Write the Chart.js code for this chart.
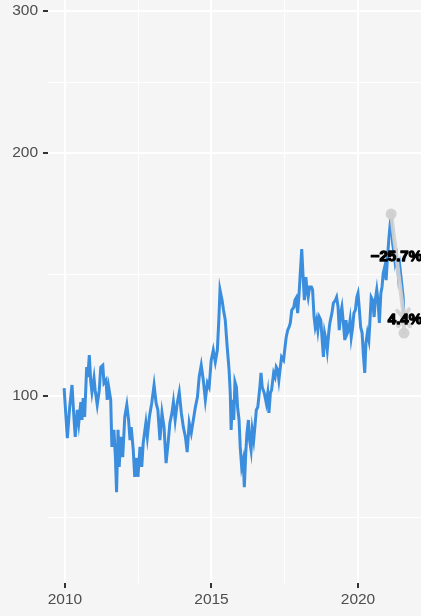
<!DOCTYPE html>
<html>
<head>
<meta charset="utf-8">
<script src="https://cdn.jsdelivr.net/npm/chart.js@4.4.0/dist/chart.umd.min.js"></script>
<style>
  html, body { margin: 0; padding: 0; background: #f5f5f5; }
  canvas { display: block; }
</style>
</head>
<body>
<canvas id="chart" width="421" height="616"></canvas>
<script>
// series (decimal years, index level)
const years = [
  2009.97, 2010.08, 2010.16, 2010.24, 2010.31, 2010.35, 2010.42, 2010.47, 2010.54, 2010.58,
  2010.62, 2010.67, 2010.74, 2010.78, 2010.83, 2010.88, 2010.92, 2010.99, 2011.03, 2011.10,
  2011.17, 2011.22, 2011.29, 2011.33, 2011.40, 2011.44, 2011.49, 2011.56, 2011.60, 2011.67,
  2011.72, 2011.76, 2011.81, 2011.85, 2011.90, 2011.97, 2012.04, 2012.11, 2012.17, 2012.22,
  2012.26, 2012.33, 2012.38, 2012.45, 2012.49, 2012.56, 2012.62, 2012.67, 2012.76, 2012.81,
  2012.88, 2012.96, 2013.04, 2013.11, 2013.17, 2013.24, 2013.31, 2013.38, 2013.45, 2013.52,
  2013.58, 2013.65, 2013.70, 2013.76, 2013.83, 2013.90, 2013.97, 2014.04, 2014.11, 2014.17,
  2014.24, 2014.31, 2014.38, 2014.45, 2014.52, 2014.58, 2014.65, 2014.72, 2014.79, 2014.86,
  2014.92, 2014.99, 2015.06, 2015.13, 2015.20, 2015.25, 2015.29, 2015.36, 2015.41, 2015.47,
  2015.53, 2015.60, 2015.64, 2015.67, 2015.71, 2015.76, 2015.80, 2015.85, 2015.89, 2015.94,
  2015.98, 2016.03, 2016.08, 2016.12, 2016.17, 2016.21, 2016.26, 2016.30, 2016.35, 2016.39,
  2016.44, 2016.48, 2016.53, 2016.58, 2016.65, 2016.69, 2016.73, 2016.80, 2016.87, 2016.92,
  2016.96, 2017.01, 2017.05, 2017.12, 2017.17, 2017.21, 2017.26, 2017.30, 2017.35, 2017.39,
  2017.46, 2017.51, 2017.55, 2017.60, 2017.65, 2017.69, 2017.74, 2017.81, 2017.85, 2017.89,
  2017.94, 2017.99, 2018.03, 2018.08, 2018.12, 2018.17, 2018.22, 2018.26, 2018.30, 2018.35,
  2018.41, 2018.45, 2018.50, 2018.54, 2018.59, 2018.63, 2018.68, 2018.73, 2018.77, 2018.82,
  2018.86, 2018.91, 2018.95, 2019.00, 2019.04, 2019.11, 2019.16, 2019.23, 2019.27, 2019.32,
  2019.36, 2019.41, 2019.45, 2019.50, 2019.55, 2019.59, 2019.64, 2019.68, 2019.73, 2019.77,
  2019.82, 2019.86, 2019.91, 2019.96, 2020.00, 2020.04, 2020.09, 2020.14, 2020.18, 2020.23,
  2020.27, 2020.32, 2020.37, 2020.41, 2020.45, 2020.50, 2020.55, 2020.59, 2020.64, 2020.68,
  2020.73, 2020.78, 2020.82, 2020.86, 2020.91, 2020.96, 2021.00, 2021.05, 2021.09, 2021.13,
  2021.18, 2021.23, 2021.27, 2021.32, 2021.38, 2021.43, 2021.49, 2021.54, 2021.57
];
const values = [
  102.3, 88.7, 96.9, 103.2, 93.4, 89.0, 96.1, 92.6, 98.3, 93.4,
  99.4, 94.2, 108.6, 105.6, 112.4, 104.1, 101.1, 105.3, 101.7, 97.5,
  101.7, 108.6, 109.2, 103.8, 104.7, 98.9, 102.6, 98.9, 86.5, 90.8,
  84.0, 76.0, 90.8, 81.7, 89.0, 84.0, 94.2, 97.5, 93.4, 88.2,
  91.5, 85.7, 79.4, 83.8, 79.4, 86.5, 81.7, 87.5, 92.6, 89.0,
  94.2, 98.0, 103.2, 98.0, 96.1, 88.2, 95.3, 91.5, 82.6, 87.5,
  92.6, 95.3, 98.3, 93.4, 98.0, 101.1, 95.3, 91.5, 89.0, 85.2,
  92.6, 90.0, 93.4, 96.9, 99.7, 105.6, 109.2, 104.7, 98.9, 103.8,
  102.6, 110.8, 114.0, 110.2, 114.0, 124.2, 135.4, 131.5, 127.8, 124.2,
  115.7, 107.7, 100.9, 90.8, 98.9, 93.4, 104.1, 102.6, 96.9, 93.4,
  86.5, 81.7, 83.3, 77.1, 85.0, 90.0, 93.4, 88.2, 85.7, 90.8,
  88.2, 91.5, 96.1, 96.9, 102.6, 106.8, 102.6, 100.9, 98.0, 100.9,
  95.3, 100.9, 101.7, 106.8, 105.6, 108.6, 107.7, 104.7, 108.6, 111.8,
  110.8, 115.0, 118.3, 120.7, 121.8, 123.2, 127.8, 128.9, 131.5, 132.3,
  126.7, 134.1, 142.0, 152.1, 142.0, 131.5, 140.4, 135.4, 132.6, 136.5,
  136.5, 135.4, 125.3, 121.8, 124.2, 120.7, 125.3, 124.2, 118.3, 111.8,
  119.7, 117.3, 114.0, 119.7, 123.2, 126.7, 130.4, 131.5, 132.6, 128.9,
  120.7, 126.7, 128.9, 123.2, 117.3, 124.2, 119.7, 120.7, 124.2, 118.3,
  121.8, 126.7, 127.8, 132.6, 134.1, 128.9, 121.8, 119.7, 113.0, 106.8,
  116.3, 119.7, 117.3, 124.2, 132.6, 131.5, 125.3, 131.5, 135.4, 131.5,
  123.2, 134.1, 136.5, 142.0, 144.5, 139.2, 147.4, 156.1, 162.0, 168.1,
  154.7, 150.4, 146.1, 148.7, 140.4, 144.5, 138.0, 132.6, 124.9
];

// axis ticks
const xMajor = [2010, 2015, 2020];
const xMinor = [2012.5, 2017.5];
const yMajor = [100, 200, 300];
const yMinor = [70.71, 141.42, 244.95];

// annotation: peak and reference point, with the change labels
const markYears = [2021.13, 2021.57];
const markValues = [168.1, 119.7];
const markLabels = ['\u221225.7%', '4.4%'];

const FONT = "'Liberation Sans', Arial, Helvetica, sans-serif";
const TEXT = '#4d4d4d';

function arrowHead(ctx, fx, fy, tx, ty, len) {
  const a = Math.atan2(ty - fy, tx - fx);
  ctx.beginPath();
  ctx.moveTo(tx - len * Math.cos(a - Math.PI / 5), ty - len * Math.sin(a - Math.PI / 5));
  ctx.lineTo(tx, ty);
  ctx.lineTo(tx - len * Math.cos(a + Math.PI / 5), ty - len * Math.sin(a + Math.PI / 5));
  ctx.stroke();
}

const annotate = {
  id: 'annotate',
  afterDatasetsDraw(chart) {
    const ctx = chart.ctx;
    const xs = chart.scales.x, ys = chart.scales.y;
    const n = years.length - 1;
    const cx = xs.getPixelForValue(years[n]), cy = ys.getPixelForValue(values[n]);
    const px = xs.getPixelForValue(markYears[0]), py = ys.getPixelForValue(markValues[0]);
    const lx = xs.getPixelForValue(markYears[1]), ly = ys.getPixelForValue(markValues[1]);

    ctx.save();
    ctx.strokeStyle = 'rgba(208,208,208,0.92)';
    ctx.fillStyle = 'rgba(208,208,208,0.95)';
    ctx.lineWidth = 4;
    ctx.lineCap = 'round';

    // peak -> current
    ctx.beginPath();
    ctx.moveTo(px, py);
    ctx.lineTo(cx, cy);
    ctx.stroke();
    arrowHead(ctx, px, py, cx, cy, 10);
    // reference -> current
    ctx.beginPath();
    ctx.moveTo(lx, ly);
    ctx.lineTo(cx, cy);
    ctx.stroke();
    arrowHead(ctx, lx, ly, cx, cy, 10);

    [[px, py], [lx, ly]].forEach(p => {
      ctx.beginPath();
      ctx.arc(p[0], p[1], 5.5, 0, Math.PI * 2);
      ctx.fill();
    });

    // labels
    ctx.font = 'bold 15px ' + FONT;
    ctx.textAlign = 'right';
    ctx.textBaseline = 'middle';
    ctx.fillStyle = '#000';
    ctx.strokeStyle = '#000';
    ctx.lineWidth = 1.3;
    ctx.lineJoin = 'round';
    const right = chart.chartArea.right + 1;
    const y1 = (py + cy) / 2 - 9;
    const y2 = cy + 2;
    ctx.fillText(markLabels[0], right, y1);
    ctx.strokeText(markLabels[0], right, y1);
    ctx.fillText(markLabels[1], right, y2);
    ctx.strokeText(markLabels[1], right, y2);
    ctx.restore();
  }
};

const isIn = (arr, v) => arr.some(m => Math.abs(m - v) < 1e-6);

new Chart(document.getElementById('chart'), {
  type: 'line',
  data: {
    datasets: [{
      data: years.map((x, i) => ({ x: x, y: values[i] })),
      borderColor: '#3b8edd',
      borderWidth: 3,
      pointRadius: 0,
      tension: 0,
      fill: false
    }]
  },
  options: {
    responsive: false,
    animation: false,
    devicePixelRatio: 1,
    layout: { padding: 0 },
    plugins: { legend: { display: false }, tooltip: { enabled: false } },
    scales: {
      x: {
        type: 'linear',
        min: 2009.42,
        max: 2022.15,
        afterBuildTicks: axis => {
          axis.ticks = xMajor.concat(xMinor).sort((a, b) => a - b).map(v => ({ value: v }));
        },
        afterFit: axis => {
          axis.height = 33;
          axis.paddingLeft = 0;
          axis.paddingRight = 0;
        },
        border: { display: false },
        grid: {
          color: '#ffffff',
          lineWidth: c => (c.tick && isIn(xMajor, c.tick.value)) ? 2 : 1,
          tickColor: c => (c.tick && isIn(xMajor, c.tick.value)) ? '#333333' : 'rgba(0,0,0,0)',
          tickWidth: 2,
          tickLength: 5
        },
        ticks: {
          autoSkip: false,
          maxRotation: 0,
          padding: 2,
          color: TEXT,
          font: { family: FONT, size: 15.5 },
          callback: v => isIn(xMajor, v) ? String(v) : ''
        }
      },
      y: {
        type: 'logarithmic',
        min: 58.66,
        max: 309.56,
        afterBuildTicks: axis => {
          axis.ticks = yMinor.concat(yMajor).sort((a, b) => a - b).map(v => ({ value: v }));
        },
        afterFit: axis => {
          axis.width = 48;
          axis.paddingTop = 0;
          axis.paddingBottom = 0;
        },
        border: { display: false },
        grid: {
          color: '#ffffff',
          lineWidth: c => (c.tick && isIn(yMajor, c.tick.value)) ? 2 : 1,
          tickColor: c => (c.tick && isIn(yMajor, c.tick.value)) ? '#333333' : 'rgba(0,0,0,0)',
          tickWidth: 2,
          tickLength: 5
        },
        ticks: {
          autoSkip: false,
          padding: 5,
          color: TEXT,
          font: { family: FONT, size: 15.5 },
          callback: v => isIn(yMajor, v) ? String(v) : ''
        }
      }
    }
  },
  plugins: [annotate]
});
</script>
</body>
</html>
